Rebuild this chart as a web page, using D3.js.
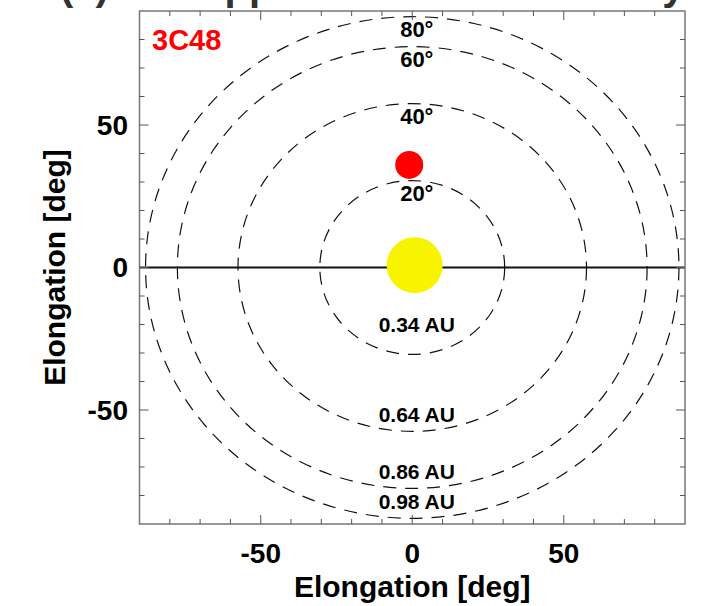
<!DOCTYPE html>
<html>
<head>
<meta charset="utf-8">
<script src="https://cdn.jsdelivr.net/npm/d3@7"></script>
<style>
body { margin: 0; background: white; }
text { font-family: "Liberation Sans", Arial, sans-serif; font-weight: bold; }
</style>
</head>
<body>
<script>
/* values (degrees of elongation) */
var circleRadii = [30.5, 57.5, 77.5, 88];
var angleLabels = ["20°", "40°", "60°", "80°"];
var distLabels = ["0.34 AU", "0.64 AU", "0.86 AU", "0.98 AU"];
var xTicks = [-50, 0, 50];
var yTicks = [-50, 0, 50];
var sun = [0.8, 0.8];
var source = [-1, 36];
var sourceName = "3C48";

var width = 717, height = 606;

var svg = d3.select("body").append("svg")
	.attr("width", width)
	.attr("height", height);

var x = d3.scaleLinear().domain([-90, 90]).range([139.5, 685]);
var y = d3.scaleLinear().domain([-90, 90]).range([524, 11]);

/* title, mostly above the top of the picture */
svg.append("text")
	.attr("x", 60).attr("y", 0)
	.style("font-size", "40px").style("fill", "#333")
	.text("(a) The approach in the solar sky");

var clip = svg.append("clipPath").attr("id", "plotclip")
	.append("rect")
	.attr("x", x(-90)).attr("y", y(90))
	.attr("width", x(90) - x(-90)).attr("height", y(-90) - y(90));

var plot = svg.append("g").attr("clip-path", "url(#plotclip)");

/* dashed circles */
plot.selectAll("circle.ring").data(circleRadii).enter().append("circle")
	.attr("class", "ring")
	.attr("cx", x(0)).attr("cy", y(0))
	.attr("r", function(d) { return x(d) - x(0); })
	.attr("transform", function(d) {
		var sy = (y(0) - y(d)) / (x(d) - x(0));
		return "translate(0," + y(0) + ") scale(1," + sy + ") translate(0," + (-y(0)) + ")";
	})
	.attr("fill", "none").attr("stroke", "#111")
	.attr("stroke-width", 1.2)
	.attr("vector-effect", "non-scaling-stroke")
	.attr("stroke-dasharray", "13,9");

/* zero line */
plot.append("line")
	.attr("x1", x(-90)).attr("x2", x(90))
	.attr("y1", y(0)).attr("y2", y(0))
	.attr("stroke", "#111").attr("stroke-width", 2);

/* sun */
plot.append("circle")
	.attr("cx", x(sun[0])).attr("cy", y(sun[1])).attr("r", 28)
	.attr("fill", "#f8f400");

/* radio source */
plot.append("circle")
	.attr("cx", x(source[0])).attr("cy", y(source[1])).attr("r", 14)
	.attr("fill", "#ff0000");

/* ring labels */
svg.selectAll("text.ang").data(angleLabels).enter().append("text")
	.attr("class", "ang")
	.attr("x", x(1.5))
	.attr("y", function(d, i) { return y(circleRadii[i] - 4.5); })
	.attr("dy", "0.35em")
	.attr("text-anchor", "middle")
	.style("font-size", "22px")
	.text(function(d) { return d; });

svg.selectAll("text.dist").data(distLabels).enter().append("text")
	.attr("class", "dist")
	.attr("x", x(1.5))
	.attr("y", function(d, i) { return y(-(circleRadii[i] - (i == 0 ? 10.5 : 6))); })
	.attr("dy", "0.35em")
	.attr("text-anchor", "middle")
	.style("font-size", "21px")
	.text(function(d) { return d; });

/* source name */
svg.append("text")
	.attr("x", 152).attr("y", 40).attr("dy", "0.35em")
	.style("font-size", "29px").style("fill", "#ff0000")
	.text(sourceName);

/* frame */
svg.append("rect")
	.attr("x", x(-90)).attr("y", y(90))
	.attr("width", x(90) - x(-90)).attr("height", y(-90) - y(90))
	.attr("fill", "none").attr("stroke", "#777").attr("stroke-width", 1.5);

/* inward ticks on all four sides */
var minor = d3.range(-80, 90, 10);
function tickLen(d) { return d % 50 == 0 ? 9 : 5; }
var tickColor = "#555";

svg.selectAll("line.tb").data(minor).enter().append("line")
	.attr("x1", function(d) { return x(d); }).attr("x2", function(d) { return x(d); })
	.attr("y1", y(-90)).attr("y2", function(d) { return y(-90) - tickLen(d); })
	.attr("stroke", tickColor);
svg.selectAll("line.tt").data(minor).enter().append("line")
	.attr("x1", function(d) { return x(d); }).attr("x2", function(d) { return x(d); })
	.attr("y1", y(90)).attr("y2", function(d) { return y(90) + tickLen(d); })
	.attr("stroke", tickColor);
svg.selectAll("line.tl").data(minor).enter().append("line")
	.attr("y1", function(d) { return y(d); }).attr("y2", function(d) { return y(d); })
	.attr("x1", x(-90)).attr("x2", function(d) { return x(-90) + tickLen(d); })
	.attr("stroke", tickColor);
svg.selectAll("line.tr").data(minor).enter().append("line")
	.attr("y1", function(d) { return y(d); }).attr("y2", function(d) { return y(d); })
	.attr("x1", x(90)).attr("x2", function(d) { return x(90) - tickLen(d); })
	.attr("stroke", tickColor);

/* tick labels */
svg.selectAll("text.xl").data(xTicks).enter().append("text")
	.attr("x", function(d) { return x(d); }).attr("y", 553).attr("dy", "0.35em")
	.attr("text-anchor", "middle")
	.style("font-size", "28px")
	.text(function(d) { return d; });

svg.selectAll("text.yl").data(yTicks).enter().append("text")
	.attr("x", 128).attr("y", function(d) { return y(d); }).attr("dy", "0.35em")
	.attr("text-anchor", "end")
	.style("font-size", "28px")
	.text(function(d) { return d; });

/* axis titles */
svg.append("text")
	.attr("x", x(0)).attr("y", 586).attr("dy", "0.35em")
	.attr("text-anchor", "middle")
	.style("font-size", "30px")
	.text("Elongation [deg]");

svg.append("text")
	.attr("transform", "translate(54," + y(0) + ") rotate(-90)")
	.attr("dy", "0.35em")
	.attr("text-anchor", "middle")
	.style("font-size", "30px")
	.text("Elongation [deg]");
</script>
</body>
</html>
